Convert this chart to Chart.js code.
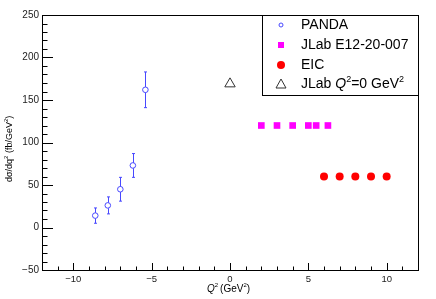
<!DOCTYPE html>
<html>
<head>
<meta charset="utf-8">
<script src="https://cdn.jsdelivr.net/npm/chart.js@4.4.1/dist/chart.umd.min.js"></script>
<style>
  html, body { margin: 0; padding: 0; background: #fff; }
  #wrap { width: 436px; height: 299px; }
</style>
</head>
<body>
<div id="wrap"><canvas id="grafico"></canvas></div>
<script>
// PANDA (com barras de erro)
const pandaQ2 = [-8.6, -7.8, -7.0, -6.2, -5.4];
const pandaSigma = [14, 26, 45, 73, 162];
const pandaErr = [9, 10, 14, 14, 21];

// JLab E12-20-007
const jlabQ2 = [2, 3, 4, 5, 5.5, 6.25];
const jlabSigma = [120, 120, 120, 120, 120, 120];

// EIC
const eicQ2 = [6, 7, 8, 9, 10];
const eicSigma = [60, 60, 60, 60, 60];

// JLab Q2 = 0
const realQ2 = [0];
const realSigma = [169];

// Rótulos dos eixos
const xTicks = [-10, -5, 0, 5, 10];
const yTicks = [-50, 0, 50, 100, 150, 200, 250];

const FONTE = '"Liberation Sans", Arial, sans-serif';
const AZUL = '#4848ff';

function pontos(xs, ys) {
    return xs.map((x, i) => ({ x: x, y: ys[i] }));
}

function menos(v) {
    return String(v).replace('-', '\u2212');
}

// Barras de erro verticais (antes dos pontos)
const barrasErro = {
    id: 'barrasErro',
    beforeDatasetsDraw(chart) {
        const ctx = chart.ctx;
        const sx = chart.scales.x, sy = chart.scales.y;
        ctx.save();
        ctx.strokeStyle = AZUL;
        ctx.lineWidth = 1;
        pandaQ2.forEach((q, i) => {
            const px = Math.round(sx.getPixelForValue(q)) + 0.5;
            const y1 = sy.getPixelForValue(pandaSigma[i] - pandaErr[i]);
            const y2 = sy.getPixelForValue(pandaSigma[i] + pandaErr[i]);
            ctx.beginPath();
            ctx.moveTo(px, y1); ctx.lineTo(px, y2);
            ctx.moveTo(px - 1.5, y1); ctx.lineTo(px + 1.5, y1);
            ctx.moveTo(px - 1.5, y2); ctx.lineTo(px + 1.5, y2);
            ctx.stroke();
        });
        ctx.restore();
    }
};

// Moldura, marcas dos eixos, títulos e legenda estilo ROOT
const moldura = {
    id: 'moldura',
    afterDraw(chart) {
        const ctx = chart.ctx;
        const a = chart.chartArea;
        const sx = chart.scales.x, sy = chart.scales.y;
        ctx.save();
        ctx.strokeStyle = '#000';
        ctx.lineWidth = 1;
        ctx.strokeRect(a.left + 0.5, a.top + 0.5, a.right - a.left, a.bottom - a.top);

        // marcas do eixo x (para dentro)
        ctx.beginPath();
        for (let v = Math.ceil(sx.min); v <= sx.max; v++) {
            const px = Math.round(sx.getPixelForValue(v)) + 0.5;
            const len = (v % 5 === 0) ? 7 : 3.5;
            ctx.moveTo(px, a.bottom);
            ctx.lineTo(px, a.bottom - len);
        }
        // marcas do eixo y
        for (let v = sy.min; v <= sy.max; v += 10) {
            const py = Math.round(sy.getPixelForValue(v)) + 0.5;
            const len = (v % 50 === 0) ? 11 : 5.5;
            ctx.moveTo(a.left, py);
            ctx.lineTo(a.left + len, py);
        }
        ctx.stroke();

        // título do eixo x: Q² (GeV²)
        ctx.fillStyle = '#000';
        ctx.textBaseline = 'alphabetic';
        let x = 207, y = 292;
        ctx.font = 'italic 10px ' + FONTE;
        ctx.fillText('Q', x, y); x += ctx.measureText('Q').width;
        ctx.font = '6px ' + FONTE;
        ctx.fillText('2', x, y - 5); x += ctx.measureText('2').width + 2;
        ctx.font = '10px ' + FONTE;
        ctx.fillText('(GeV', x, y); x += ctx.measureText('(GeV').width;
        ctx.font = '6px ' + FONTE;
        ctx.fillText('2', x, y - 5); x += ctx.measureText('2').width;
        ctx.font = '10px ' + FONTE;
        ctx.fillText(')', x, y);

        // título do eixo y: dσ/dq² (fb/GeV²)
        ctx.save();
        ctx.translate(12, 182);
        ctx.rotate(-Math.PI / 2);
        let t = 0;
        const partes = [['dσ/dq', 9, 0], ['2', 6, -4], [' (fb/GeV', 9, 0], ['2', 6, -4], [')', 9, 0]];
        partes.forEach(p => {
            ctx.font = p[1] + 'px ' + FONTE;
            ctx.fillText(p[0], t, p[2]);
            t += ctx.measureText(p[0]).width;
        });
        ctx.restore();

        // legenda
        const lx = 262.5, ly = 15.5, lw = a.right - 262, lh = 80;
        ctx.fillStyle = '#fff';
        ctx.fillRect(lx, ly, lw, lh);
        ctx.strokeStyle = '#000';
        ctx.strokeRect(lx, ly, lw, lh);

        const mx = 281, tx = 301;
        const linhas = [25, 45, 65, 84.5];
        // PANDA
        ctx.strokeStyle = AZUL;
        ctx.beginPath(); ctx.arc(mx, linhas[0], 2, 0, Math.PI * 2); ctx.stroke();
        // JLab quadrado
        ctx.fillStyle = '#ff00ff';
        ctx.fillRect(mx - 3, linhas[1] - 3, 6, 6);
        // EIC
        ctx.fillStyle = '#ff0000';
        ctx.beginPath(); ctx.arc(mx, linhas[2], 4, 0, Math.PI * 2); ctx.fill();
        // triângulo
        ctx.strokeStyle = '#333';
        ctx.beginPath();
        ctx.moveTo(mx, linhas[3] - 5.5);
        ctx.lineTo(mx + 5, linhas[3] + 3.5);
        ctx.lineTo(mx - 5, linhas[3] + 3.5);
        ctx.closePath(); ctx.stroke();

        ctx.fillStyle = '#000';
        ctx.textBaseline = 'middle';
        ctx.font = '14px ' + FONTE;
        ctx.fillText('PANDA', tx, linhas[0]);
        ctx.fillText('JLab E12-20-007', tx, linhas[1]);
        ctx.fillText('EIC', tx, linhas[2]);
        let cx = tx, cy = linhas[3];
        ctx.fillText('JLab ', cx, cy); cx += ctx.measureText('JLab ').width;
        ctx.font = 'italic 14px ' + FONTE;
        ctx.fillText('Q', cx, cy); cx += ctx.measureText('Q').width;
        ctx.font = '9px ' + FONTE;
        ctx.fillText('2', cx, cy - 5); cx += ctx.measureText('2').width;
        ctx.font = '14px ' + FONTE;
        ctx.fillText('=0 GeV', cx, cy); cx += ctx.measureText('=0 GeV').width;
        ctx.font = '9px ' + FONTE;
        ctx.fillText('2', cx, cy - 5);
        ctx.restore();
    }
};

function criarGrafico() {
    const ctx = document.getElementById('grafico').getContext('2d');
    return new Chart(ctx, {
        type: 'scatter',
        data: {
            datasets: [
                {
                    label: 'PANDA',
                    data: pontos(pandaQ2, pandaSigma),
                    pointStyle: 'circle',
                    pointRadius: 2.8,
                    borderWidth: 1,
                    borderColor: AZUL,
                    backgroundColor: '#fff'
                },
                {
                    label: 'JLab E12-20-007',
                    data: pontos(jlabQ2, jlabSigma),
                    pointStyle: 'rect',
                    pointRadius: 4.7,
                    borderWidth: 0,
                    borderColor: '#ff00ff',
                    backgroundColor: '#ff00ff'
                },
                {
                    label: 'EIC',
                    data: pontos(eicQ2, eicSigma),
                    pointStyle: 'circle',
                    pointRadius: 4,
                    borderWidth: 0,
                    borderColor: '#ff0000',
                    backgroundColor: '#ff0000'
                },
                {
                    label: 'JLab Q2=0 GeV2',
                    data: pontos(realQ2, realSigma),
                    pointStyle: 'triangle',
                    pointRadius: 6,
                    borderWidth: 1,
                    borderColor: '#333',
                    backgroundColor: 'rgba(0,0,0,0)'
                }
            ]
        },
        options: {
            responsive: true,
            maintainAspectRatio: false,
            animation: false,
            layout: { padding: { top: 15, right: 18, left: 0, bottom: 0 } },
            plugins: { legend: { display: false }, tooltip: { enabled: false } },
            scales: {
                x: {
                    type: 'linear',
                    min: -12, max: 12,
                    grid: { display: false, drawTicks: false },
                    border: { display: false },
                    afterBuildTicks: s => { s.ticks = xTicks.map(v => ({ value: v })); },
                    afterFit: s => { s.height = 29; },
                    ticks: {
                        padding: 4,
                        color: '#222',
                        font: { family: FONTE, size: 9.5 },
                        maxRotation: 0,
                        callback: v => menos(v)
                    }
                },
                y: {
                    type: 'linear',
                    min: -50, max: 250,
                    grid: { display: false, drawTicks: false },
                    border: { display: false },
                    afterBuildTicks: s => { s.ticks = yTicks.map(v => ({ value: v })); },
                    afterFit: s => { s.width = 42; },
                    ticks: {
                        padding: 3,
                        color: '#222',
                        font: { family: FONTE, size: 10 },
                        callback: v => menos(v)
                    }
                }
            }
        },
        plugins: [barrasErro, moldura]
    });
}

document.addEventListener('DOMContentLoaded', () => {
    criarGrafico();
});
</script>
</body>
</html>
